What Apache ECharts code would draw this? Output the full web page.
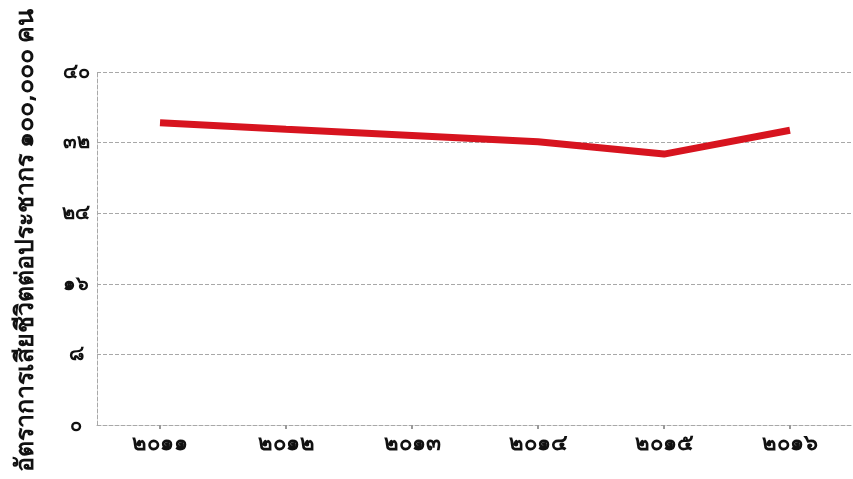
<!DOCTYPE html>
<html>
<head>
<meta charset="utf-8">
<script src="https://cdn.jsdelivr.net/npm/echarts@6/dist/echarts.min.js"></script>
<style>
  html, body { margin: 0; padding: 0; background: #fff; }
  #chart { width: 853px; height: 479px; }
</style>
</head>
<body>
<div id="chart"></div>
<script>
// years in Thai numerals
const years = ['๒๐๑๑', '๒๐๑๒', '๒๐๑๓', '๒๐๑๔', '๒๐๑๕', '๒๐๑๖'];
// death rate per 100,000 people
const rate = [34.25, 33.5, 32.8, 32.1, 30.7, 33.4];
const yTicks = { 0: '๐', 8: '๘', 16: '๑๖', 24: '๒๔', 32: '๓๒', 40: '๔๐' };
const yTitle = 'อัตราการเสียชีวิตต่อประชากร ๑๐๐,๐๐๐ คน';

const chart = echarts.init(document.getElementById('chart'));
const dashed = { color: '#a8a8a8', type: 'dashed', width: 1 };
const font = 'Noto Sans, DejaVu Sans, sans-serif';

chart.setOption({
  animation: false,
  grid: { left: 97, right: -6, top: 72, bottom: 54 },
  xAxis: {
    type: 'category',
    data: years,
    boundaryGap: true,
    axisLine: { show: true, lineStyle: dashed },
    axisTick: { show: true, alignWithLabel: true, length: 4, lineStyle: { color: '#999', width: 2 } },
    axisLabel: {
      color: '#111', fontSize: 22, fontWeight: 'bold', margin: 8,
      fontFamily: font
    },
    splitLine: { show: false }
  },
  yAxis: {
    type: 'value',
    min: 0, max: 40, interval: 8,
    name: yTitle,
    nameLocation: 'middle',
    nameGap: 59,
    nameRotate: 90,
    nameTextStyle: {
      color: '#111', fontSize: 25, fontWeight: 'bold', fontFamily: font,
      padding: [0, 0, 0, 16]
    },
    axisLine: { show: true, lineStyle: dashed },
    axisTick: { show: false },
    axisLabel: {
      color: '#111', fontSize: 20, fontWeight: 'bold', margin: 21, align: 'center',
      fontFamily: font,
      formatter: v => yTicks[v] !== undefined ? yTicks[v] : ''
    },
    splitLine: { show: true, lineStyle: dashed }
  },
  series: [{
    type: 'line',
    data: rate,
    symbol: 'none',
    lineStyle: { color: '#d7141f', width: 7 }
  }]
});
</script>
</body>
</html>
